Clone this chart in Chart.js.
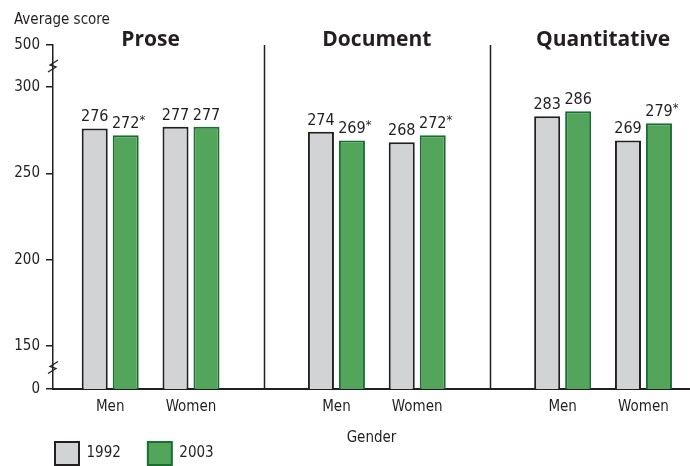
<!DOCTYPE html>
<html>
<head>
<meta charset="utf-8">
<title>Average score by gender</title>
<script src="https://cdn.jsdelivr.net/npm/chart.js@4.4.1/dist/chart.umd.min.js"></script>
<style>
  html, body { margin: 0; padding: 0; background: #fff; }
  #wrap { width: 690px; height: 466px; }
</style>
</head>
<body>
<div id="wrap"><canvas id="chart" width="690" height="466"></canvas></div>
<script>
const panels = ["Prose", "Document", "Quantitative"];
const genders = ["Men", "Women"];
const years = ["1992", "2003"];
// Men, Women for each panel, in panel order
const scores1992 = [276, 277, 274, 268, 283, 269];
const scores2003 = [272, 277, 269, 272, 286, 279];
const signif2003 = [true, false, true, true, false, true];
const yTicks = [0, 150, 200, 250, 300, 500];

const ink = "#231f20";
const narrow = "'DejaVu Sans Condensed', 'Liberation Sans Narrow', sans-serif";

// broken axis: 0 and 500 are pulled in next to the 150..300 range
const axisLow = 125.1, axisHigh = 324.3;
function axisValue(v) {
  if (v < 150) return axisLow;
  if (v > 300) return axisHigh;
  return v;
}

const panelStep = 2.8;
const xPos = [];
panels.forEach((p, i) => genders.forEach((g, j) => xPos.push(i * panelStep + j)));

Chart.defaults.font.family = narrow;
Chart.defaults.font.size = 15;
Chart.defaults.color = ink;

const overlay = {
  id: "overlay",
  afterLayout(chart) {
    // legend starts under the axis, not at the canvas edge
    chart.legend.left += 28;
  },
  afterDatasetsDraw(chart) {
    const ctx = chart.ctx;
    const { top, bottom, left, right } = chart.chartArea;
    const xs = chart.scales.x;
    ctx.save();
    ctx.fillStyle = ink;
    ctx.strokeStyle = ink;

    // value labels over the bars
    chart.data.datasets.forEach((ds, di) => {
      chart.getDatasetMeta(di).data.forEach((bar, i) => {
        const txt = String(ds.data[i].y);
        ctx.font = "16px " + narrow;
        ctx.textAlign = "center";
        ctx.textBaseline = "alphabetic";
        ctx.fillText(txt, bar.x, bar.y - 7);
        if (di === 1 && signif2003[i]) {
          const w = ctx.measureText(txt).width;
          ctx.font = "13px " + narrow;
          ctx.textAlign = "left";
          ctx.fillText("*", bar.x + w / 2, bar.y - 11);
        }
      });
    });

    // panel separators
    ctx.lineWidth = 1.5;
    for (let i = 0; i < panels.length - 1; i++) {
      const px = Math.round(xs.getPixelForValue((i * panelStep + 1 + (i + 1) * panelStep) / 2)) + 0.5;
      ctx.beginPath();
      ctx.moveTo(px, top);
      ctx.lineTo(px, bottom);
      ctx.stroke();
    }

    // panel titles
    ctx.font = "bold 21px 'Open Sans', sans-serif";
    ctx.textAlign = "center";
    ctx.textBaseline = "alphabetic";
    panels.forEach((p, i) => {
      ctx.fillText(p, xs.getPixelForValue(i * panelStep + 0.5), top + 1);
    });

    // axis break marks
    const ys = chart.scales.y;
    const breaks = [(ys.getPixelForValue(300) + ys.getPixelForValue(axisHigh)) / 2,
                    (ys.getPixelForValue(150) + ys.getPixelForValue(axisLow)) / 2];
    ctx.lineWidth = 1.3;
    breaks.forEach(by => {
      ctx.beginPath();
      ctx.moveTo(left - 5, by + 6);
      ctx.lineTo(left + 3, by + 1);
      ctx.lineTo(left - 3, by - 1);
      ctx.lineTo(left + 5, by - 6);
      ctx.stroke();
    });

    // axis captions
    ctx.font = "15px " + narrow;
    ctx.textAlign = "left";
    ctx.fillText("Average score", 14, 24);
    ctx.textAlign = "center";
    ctx.textBaseline = "middle";
    ctx.fillText("Gender", (left + right) / 2, 438);
    ctx.restore();
  }
};

new Chart(document.getElementById("chart"), {
  type: "bar",
  data: {
    datasets: [
      {
        label: years[0],
        data: scores1992.map((v, i) => ({ x: xPos[i], y: v })),
        backgroundColor: "#d1d3d4",
        borderColor: ink,
        borderWidth: 2
      },
      {
        label: years[1],
        data: scores2003.map((v, i) => ({ x: xPos[i], y: v })),
        backgroundColor: "#54a55c",
        borderColor: "#1b6d31",
        borderWidth: 2
      }
    ]
  },
  options: {
    responsive: false,
    animation: false,
    events: [],
    categoryPercentage: 0.767,
    barPercentage: 0.84,
    layout: { padding: { left: 0, top: 45, right: 0, bottom: -9 } },
    scales: {
      x: {
        type: "linear",
        min: -0.708,
        max: 7.176,
        offset: false,
        afterBuildTicks: s => { s.ticks = xPos.map(v => ({ value: v })); },
        afterFit: s => { s.height = 26; },
        ticks: {
          autoSkip: false,
          maxRotation: 0,
          padding: 9,
          callback: (v, i) => genders[i % genders.length]
        },
        grid: { display: true, offset: false, drawOnChartArea: false, drawTicks: false, tickLength: 0 },
        border: { display: true, color: ink, width: 2 }
      },
      y: {
        min: axisLow,
        max: axisHigh,
        afterBuildTicks: s => { s.ticks = yTicks.map(v => ({ value: axisValue(v) })); },
        afterFit: s => { s.width = 53; },
        ticks: {
          padding: 6,
          callback: (v, i) => String(yTicks[i])
        },
        grid: { drawOnChartArea: false, drawTicks: true, tickLength: 7, color: ink, lineWidth: 1.5 },
        border: { display: true, color: ink, width: 1.5 }
      }
    },
    plugins: {
      legend: {
        position: "bottom",
        align: "start",
        labels: { boxWidth: 24, boxHeight: 23, padding: 27, color: ink, font: { size: 15 } }
      },
      tooltip: { enabled: false }
    }
  },
  plugins: [overlay]
});
</script>
</body>
</html>
